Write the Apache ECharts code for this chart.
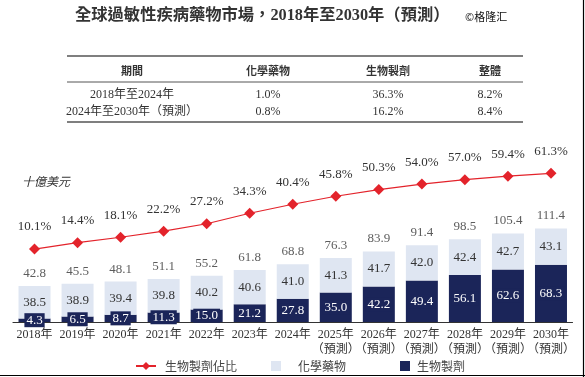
<!DOCTYPE html>
<html><head><meta charset="utf-8">
<script src="https://cdn.jsdelivr.net/npm/echarts@6/dist/echarts.min.js"></script>
<style>html,body{margin:0;padding:0;background:#fff}#c{width:585px;height:377px}</style>
</head><body><div id="c"></div>
<script>
var categories = ['2018年','2019年','2020年','2021年','2022年','2023年','2024年','2025年\n（預測）','2026年\n（預測）','2027年\n（預測）','2028年\n（預測）','2029年\n（預測）','2030年\n（預測）'];
var biologics = [4.3,6.5,8.7,11.3,15.0,21.2,27.8,35.0,42.2,49.4,56.1,62.6,68.3];
var chemicals = [38.5,38.9,39.4,39.8,40.2,40.6,41.0,41.3,41.7,42.0,42.4,42.7,43.1];
var totals = [42.8,45.5,48.1,51.1,55.2,61.8,68.8,76.3,83.9,91.4,98.5,105.4,111.4];
var shares = [10.1,14.4,18.1,22.2,27.2,34.3,40.4,45.8,50.3,54.0,57.0,59.4,61.3];
var tableHeader = ['期間','化學藥物','生物製劑','整體'];
var tableRows = [['2018年至2024年','1.0%','36.3%','8.2%'],['2024年至2030年（預測）','0.8%','16.2%','8.4%']];

var FONT = "'Liberation Serif','Noto Sans CJK TC',serif";
var NAVY = '#1b2559', LIGHT = '#dfe6f2', RED = '#e3232b', TXT = '#333';
var colX = [132, 268, 388, 490];
var fmt1 = function(p){ return Number(p.value).toFixed(1); };
var g = [];
g.push({type:'text', left:75, top:8, style:{text:'全球過敏性疾病藥物市場，2018年至2030年（預測）', font:"bold 16.3px "+FONT, fill:'#333'}});
g.push({type:'text', left:465, top:11, style:{text:'©格隆汇', font:"11px 'Noto Sans CJK SC'", fill:'#111'}});
[56, 82, 122].forEach(function(y,i){
  g.push({type:'line', shape:{x1:67,y1:y,x2:523,y2:y}, style:{stroke:'#555', lineWidth: i===1?1:1.3}});
});
tableHeader.forEach(function(t,i){
  g.push({type:'text', x:colX[i], y:71, style:{text:t, font:"bold 11px 'Noto Sans CJK TC'", fill:'#333', align:'center', verticalAlign:'middle'}});
});
tableRows.forEach(function(r,ri){
  r.forEach(function(t,i){
    g.push({type:'text', x:colX[i], y:95+ri*17, style:{text:t, font:"12px "+FONT, fill:'#333', align:'center', verticalAlign:'middle'}});
  });
});
g.push({type:'text', x:22, y:183, style:{text:'十億美元', font:"italic 12px "+FONT, fill:'#333', verticalAlign:'middle'}});
g.push({type:'line', shape:{x1:0,y1:375.5,x2:585,y2:375.5}, style:{stroke:'#000', lineWidth:1.2}});
g.push({type:'line', shape:{x1:583.5,y1:0,x2:583.5,y2:377}, style:{stroke:'#000', lineWidth:1.2}});

var legTxt = {fontFamily:"'Noto Sans CJK TC'", fontSize:12, color:'#444'};
var chart = echarts.init(document.getElementById('c'));
chart.setOption({
  animation:false,
  textStyle:{fontFamily:FONT},
  graphic:g,
  legend:[
    {left:130, top:355, itemWidth:20, itemHeight:10, data:['生物製劑佔比'], textStyle:Object.assign({padding:[0,0,0,4]}, legTxt)},
    {left:266, top:355, itemWidth:10, itemHeight:10, data:[{name:'化學藥物', icon:'rect'}], textStyle:Object.assign({padding:[0,0,0,12]}, legTxt)},
    {left:395, top:355, itemWidth:10, itemHeight:10, data:[{name:'生物製劑', icon:'rect'}], textStyle:Object.assign({padding:[0,0,0,2]}, legTxt)}
  ],
  grid:{left:13, right:12.5, top:160, bottom:55},
  xAxis:{type:'category', data:categories, axisTick:{show:false},
    axisLine:{lineStyle:{color:'#333', width:1.2}},
    axisLabel:{fontFamily:FONT, fontSize:12, color:'#333', interval:0, lineHeight:15, margin:5}},
  yAxis:[
    {type:'value', min:0, max:192.9, show:false, splitLine:{show:false}},
    {type:'value', min:-39.2, max:70.3, show:false, splitLine:{show:false}}
  ],
  series:[
    {name:'生物製劑', type:'bar', stack:'a', barWidth:32, data:biologics, itemStyle:{color:NAVY},
      label:{show:true, position:'inside', color:'#fff', fontSize:13, fontFamily:FONT, backgroundColor:NAVY, padding:[1,2,0,2], formatter:fmt1}},
    {name:'化學藥物', type:'bar', stack:'a', barWidth:32, data:chemicals, itemStyle:{color:LIGHT},
      label:{show:true, position:'inside', color:'#333', fontSize:13, fontFamily:FONT, formatter:fmt1}},
    {name:'合計', type:'scatter', data:totals, symbolSize:0, silent:true,
      label:{show:true, position:'top', distance:6, color:'#333', fontSize:13, fontFamily:FONT, formatter:fmt1}},
    {name:'生物製劑佔比', type:'line', yAxisIndex:1, data:shares, symbol:'diamond', symbolSize:11,
      lineStyle:{color:RED, width:1.2}, itemStyle:{color:RED},
      label:{show:true, position:'top', distance:10, color:'#333', fontSize:13, fontFamily:FONT, formatter:function(p){return p.value.toFixed(1)+'%';}}}
  ]
});
</script></body></html>
